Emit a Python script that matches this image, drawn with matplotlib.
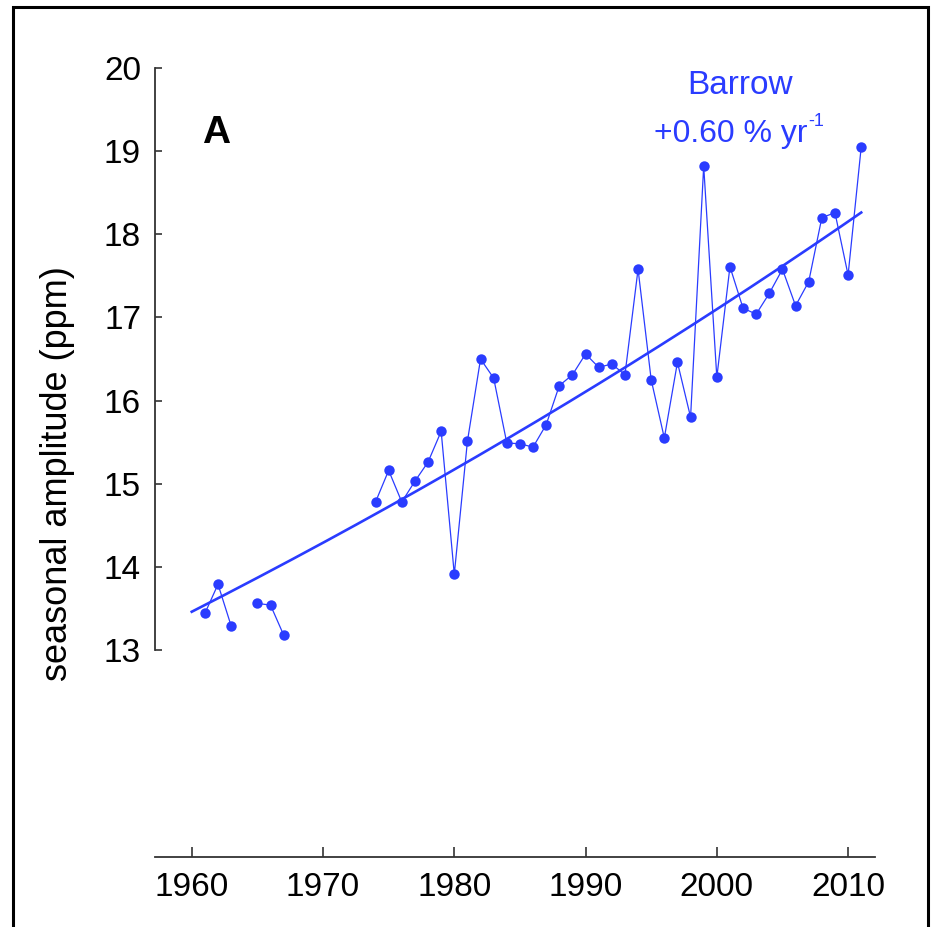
import numpy as np
import matplotlib
matplotlib.use("Agg")
import matplotlib.pyplot as plt
from matplotlib.patches import Rectangle

# ---- data ----
years = [1961, 1962, 1963, 1964, 1965, 1966, 1967, 1968,
         1974, 1975, 1976, 1977, 1978, 1979, 1980, 1981, 1982, 1983, 1984,
         1985, 1986, 1987, 1988, 1989, 1990, 1991, 1992, 1993, 1994, 1995,
         1996, 1997, 1998, 1999, 2000, 2001, 2002, 2003, 2004, 2005, 2006,
         2007, 2008, 2009, 2010, 2011]
amplitude = [13.44, 13.79, 13.29, np.nan, 13.56, 13.54, 13.18, np.nan,
             14.78, 15.16, 14.78, 15.03, 15.26, 15.63, 13.91, 15.51, 16.50, 16.27, 15.49,
             15.48, 15.44, 15.71, 16.18, 16.31, 16.56, 16.40, 16.44, 16.31, 17.58, 16.25,
             15.55, 16.46, 15.80, 18.82, 16.28, 17.61, 17.11, 17.04, 17.29, 17.58, 17.14,
             17.43, 18.20, 18.26, 17.51, 19.05]
trend_start_year = 1960
trend_end_year = 2011
trend_start_value = 13.46
trend_rate_pct = 0.60

yticks = [13, 14, 15, 16, 17, 18, 19, 20]
xticks = [1960, 1970, 1980, 1990, 2000, 2010]

site_label = "Barrow"
panel_label = "A"
ylabel = "seasonal amplitude (ppm)"

# ---- style ----
W, H = 932, 927
DPI = 100
blue = "#2a3cff"
axis_col = "#333333"
plt.rcParams['font.family'] = ['Liberation Sans', 'DejaVu Sans']

fig = plt.figure(figsize=(W / DPI, H / DPI), dpi=DPI)
fig.patch.set_facecolor("white")

left, right, top, bottom = 155, 875, 68, 857
ax = fig.add_axes([left / W, 1 - bottom / H, (right - left) / W, (bottom - top) / H])

ax.set_xlim(1957.2, 2012.05)
ax.set_ylim(10.51, 20.0)

ax.plot(years, amplitude, color=blue, lw=0.9, marker='o', markersize=7.5,
        markeredgewidth=0, zorder=3)

ty = np.linspace(trend_start_year, trend_end_year, 200)
tv = trend_start_value * (1 + trend_rate_pct / 100) ** (ty - trend_start_year)
ax.plot(ty, tv, color=blue, lw=1.9, zorder=2)

for s in ['top', 'right']:
    ax.spines[s].set_visible(False)
for s in ['left', 'bottom']:
    ax.spines[s].set_color(axis_col)
    ax.spines[s].set_linewidth(1.3)
ax.spines['left'].set_bounds(13, 20)

ax.set_yticks(yticks)
ax.set_yticklabels([str(v) for v in yticks])
ax.set_xticks(xticks)
ax.set_xticklabels([str(v) for v in xticks])
ax.tick_params(axis='y', direction='in', length=5, width=1.2, color=axis_col,
               labelsize=24, pad=10)
ax.tick_params(axis='x', direction='in', length=7, width=1.2, color=axis_col,
               labelsize=24, pad=11)

fig.text(58 / W, 1 - 474 / H, ylabel, rotation=90, ha='center', va='center',
         fontsize=26, color='black')

fig.text(216 / W, 1 - 133 / H, panel_label, ha='center', va='center',
         fontsize=28, fontweight='bold', color='black')

fig.text(740 / W, 1 - 86 / H, site_label, ha='center', va='center',
         fontsize=24, color=blue)
fig.text(808 / W, 1 - 142 / H, "+%.2f %% yr" % trend_rate_pct,
         ha='right', va='baseline', fontsize=23, color=blue)
fig.text(808 / W, 1 - 126 / H, "-1",
         ha='left', va='baseline', fontsize=13, color=blue)

# outer frame
fig.add_artist(Rectangle((13 / W, -0.01), (928 - 13) / W, 1 - 7 / H + 0.01,
                         transform=fig.transFigure, fill=False,
                         edgecolor='black', lw=2.2))

fig.savefig("out.png", dpi=DPI, facecolor="white")
